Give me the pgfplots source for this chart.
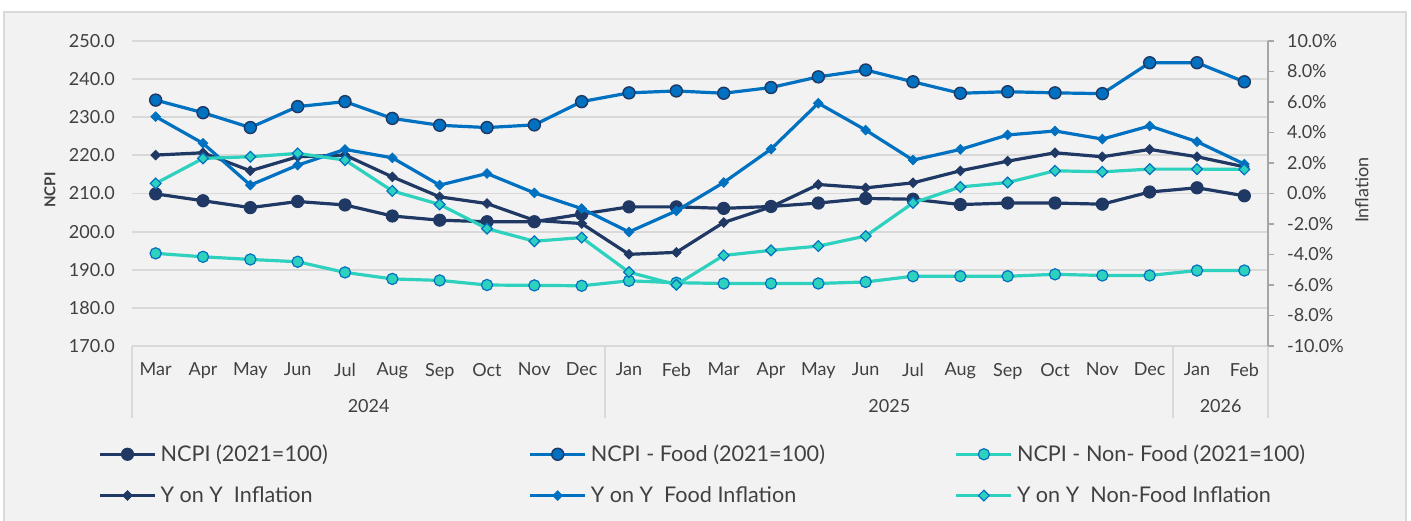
\documentclass[border=0pt]{standalone}
\usepackage{pgfplots}
\usepackage{pgfplotstable}
\pgfplotsset{compat=1.18}
\usepackage{fontspec}
\setmainfont{Lato}
\definecolor{navy}{HTML}{1F3864}
\definecolor{cblue}{HTML}{0070C0}
\definecolor{cteal}{HTML}{2ED1BE}
\definecolor{bg}{HTML}{F2F2F2}
\definecolor{gridc}{HTML}{D9D9D9}
\definecolor{framec}{HTML}{D9D9D9}
\definecolor{txt}{HTML}{404040}
\definecolor{axc}{HTML}{A6A6A6}

\pgfplotstableread{
i  ncpi  food  nonfood yoy   yoyfood yoynonfood
0  209.9 234.5 194.3   2.52  5.04    0.66
1  208.1 231.2 193.4   2.67  3.29    2.30
2  206.3 227.3 192.7   1.49  0.55    2.41
3  207.9 232.8 192.1   2.41  1.86    2.63
4  207.0 234.1 189.3   2.52  2.89    2.19
5  204.1 229.7 187.6   1.09  2.34    0.17
6  203.0 227.9 187.2  -0.22  0.55   -0.72
7  202.6 227.3 186.0  -0.66  1.31   -2.30
8  202.6 228.0 185.9  -1.76  0.04   -3.13
9  204.6 234.1 185.8  -1.97 -0.99   -2.89
10 206.5 236.4 187.1  -3.99 -2.52   -5.16
11 206.5 236.9 186.6  -3.86 -1.14   -5.98
12 206.1 236.3 186.4  -1.90  0.72   -4.06
13 206.6 237.8 186.4  -0.88  2.91   -3.73
14 207.5 240.6 186.4   0.59  5.92   -3.45
15 208.7 242.4 186.8   0.37  4.16   -2.79
16 208.5 239.3 188.3   0.70  2.19   -0.62
17 207.1 236.3 188.3   1.49  2.89    0.43
18 207.5 236.7 188.3   2.12  3.84    0.72
19 207.5 236.4 188.8   2.67  4.10    1.49
20 207.2 236.2 188.5   2.41  3.57    1.42
21 210.4 244.3 188.5   2.89  4.43    1.60
22 211.5 244.3 189.8   2.41  3.40    1.60
23 209.4 239.3 189.8   1.75  1.93    1.58
}\data

\pgfplotsset{
  ncpistyle/.style={draw=navy, line width=1.6pt, mark=*, mark size=3pt,
    mark options={fill=navy, draw=navy, line width=0.6pt, solid}},
  foodstyle/.style={draw=cblue, line width=1.6pt, mark=*, mark size=3pt,
    mark options={fill=cblue, draw=navy, line width=0.7pt, solid}},
  nonfoodstyle/.style={draw=cteal, line width=1.6pt, mark=*, mark size=2.8pt,
    mark options={fill=cteal, draw=cblue, line width=0.6pt, solid}},
  yoystyle/.style={draw=navy, line width=1.6pt, mark=square*, mark size=1.7pt,
    mark options={fill=navy, draw=navy, line width=0.4pt, rotate=45, solid}},
  yoyfoodstyle/.style={draw=cblue, line width=1.6pt, mark=square*, mark size=1.7pt,
    mark options={fill=cblue, draw=cblue, line width=0.4pt, rotate=45, solid}},
  yoynonfoodstyle/.style={draw=cteal, line width=1.6pt, mark=square*, mark size=1.9pt,
    mark options={fill=cteal, draw=cblue, line width=0.6pt, rotate=45, solid}},
}

\begin{document}
\begin{tikzpicture}
\useasboundingbox (0,0) rectangle (705.5pt,260pt);
\fill[white] (0,0) rectangle (705.5pt,260pt);
\filldraw[fill=bg, draw=framec, line width=0.8pt] (2pt,-3pt) rectangle (703pt,254pt);

\begin{axis}[
  at={(66pt,87pt)}, anchor=south west,
  scale only axis, width=568pt, height=152.5pt,
  xmin=-0.5, xmax=23.5, ymin=170, ymax=250,
  ytick={170,180,...,250},
  axis x line*=bottom, axis y line*=left,
  x axis line style={draw=gridc, line width=1.3pt, -},
  y axis line style={draw=none},
  major tick length=0pt,
  ymajorgrids, grid style={draw=gridc, line width=0.9pt},
  xtick={0,...,23},
  xticklabels={Mar,Apr,May,Jun,Jul,Aug,Sep,Oct,Nov,Dec,Jan,Feb,Mar,Apr,May,Jun,Jul,Aug,Sep,Oct,Nov,Dec,Jan,Feb},
  tick label style={font=\fontsize{9}{10}\selectfont, text=txt},
  /pgf/number format/assume math mode=true,
  yticklabel={\pgfmathprintnumber[fixed,fixed zerofill,precision=1]{\tick}},
  yticklabel style={xshift=-5pt},
  xticklabel style={yshift=-5pt},
  ylabel={NCPI},
  every axis y label/.style={at={(axis description cs:-0.0722,0.511)}, rotate=90, anchor=center,
    font=\fontsize{7.5}{9}\selectfont\bfseries, text=txt},
  clip=false,
]
\addplot[ncpistyle] table[x=i,y=ncpi]{\data};
\addplot[foodstyle] table[x=i,y=food]{\data};
\addplot[nonfoodstyle] table[x=i,y=nonfood]{\data};
\pgfplotsinvokeforeach{-0.5,9.5,21.5,23.5}{
  \draw[gridc, line width=1pt] (axis cs:#1,170) -- ++(0pt,-36pt);
}
\node[font=\fontsize{9}{10}\selectfont, text=txt] at ([yshift=-30pt]axis cs:4.5,170) {2024};
\node[font=\fontsize{9}{10}\selectfont, text=txt] at ([yshift=-30pt]axis cs:15.5,170) {2025};
\node[font=\fontsize{9}{10}\selectfont, text=txt] at ([yshift=-30pt]axis cs:22.5,170) {2026};
\end{axis}

\begin{axis}[
  at={(66pt,87pt)}, anchor=south west,
  scale only axis, width=568pt, height=152.5pt,
  xmin=-0.5, xmax=23.5, ymin=-10, ymax=10,
  ytick={-10,-8,...,10},
  axis y line*=right, axis x line=none,
  xtick=\empty,
  y axis line style={draw=axc, line width=0.6pt, -},
  ytick style={draw=axc, line width=0.6pt},
  tick align=outside, major tick length=3pt,
  tick label style={font=\fontsize{9}{10}\selectfont, text=txt},
  /pgf/number format/assume math mode=true,
  yticklabel={\pgfmathprintnumber[fixed,fixed zerofill,precision=1]{\tick}\%},
  yticklabel style={xshift=3pt},
  ylabel={Inflation},
  every axis y label/.style={at={(axis description cs:1.0827,0.511)}, rotate=90, anchor=center,
    font=\fontsize{9}{10}\selectfont, text=txt},
  clip=false,
  legend columns=3,
  legend cell align=left,
  legend image code/.code={\draw[mark repeat=2,mark phase=2] plot coordinates {(0pt,0pt) (13.75pt,0pt) (27.5pt,0pt)};},
  legend style={at={(axis description cs:0,0)}, anchor=north west, xshift=-17pt, yshift=-47pt,
    draw=none, fill=none, inner sep=0pt, row sep=7pt,
    font=\fontsize{10.8}{12}\selectfont, text=txt},
]
\addlegendimage{ncpistyle}\addlegendentry{\makebox[182pt][l]{NCPI (2021=100)}}
\addlegendimage{foodstyle}\addlegendentry{\makebox[180pt][l]{NCPI - Food (2021=100)}}
\addlegendimage{nonfoodstyle}\addlegendentry{NCPI - Non- Food (2021=100)}
\addplot[yoystyle] table[x=i,y=yoy]{\data};
\addlegendentry{\makebox[182pt][l]{Y on Y\ \ Inflation}}
\addplot[yoyfoodstyle] table[x=i,y=yoyfood]{\data};
\addlegendentry{\makebox[180pt][l]{Y on Y\ \ Food Inflation}}
\addplot[yoynonfoodstyle] table[x=i,y=yoynonfood]{\data};
\addlegendentry{Y on Y\ \ Non-Food Inflation}
\end{axis}
\end{tikzpicture}
\end{document}
